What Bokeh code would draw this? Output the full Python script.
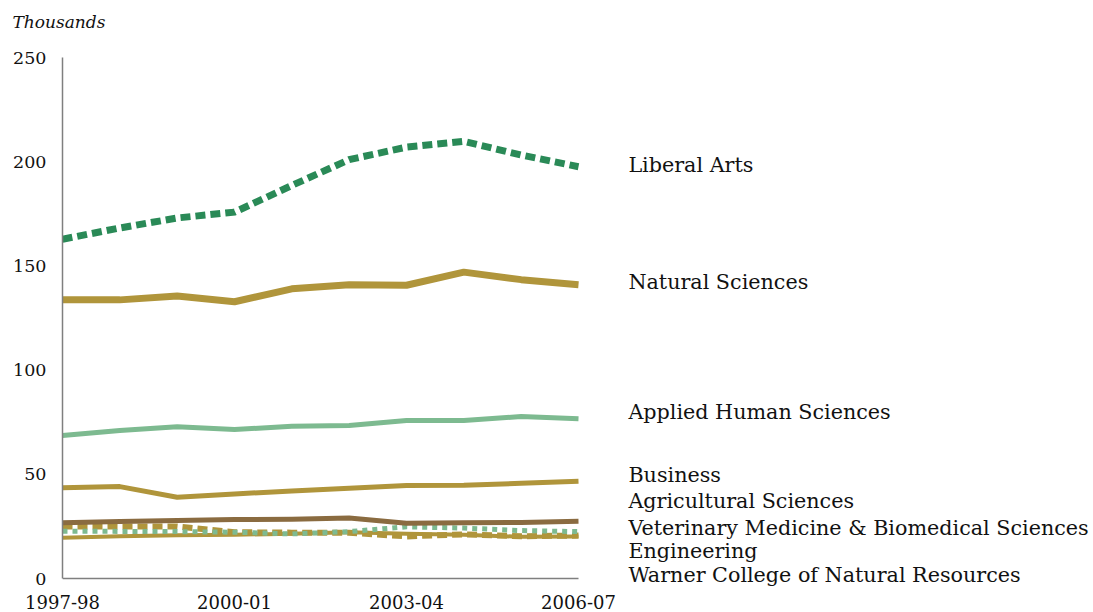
from bokeh.plotting import figure
from bokeh.models import Range1d, FixedTicker, ColumnDataSource, Title
from bokeh.core.properties import value
from bokeh.embed import file_html
from bokeh.resources import INLINE

years = ["1997-98", "1998-99", "1999-00", "2000-01", "2001-02",
         "2002-03", "2003-04", "2004-05", "2005-06", "2006-07"]
shown_ticks = ["1997-98", "2000-01", "2003-04", "2006-07"]
y_ticks = [0, 50, 100, 150, 200, 250]

liberal_arts = [162.8, 168.2, 173.0, 175.8, 188.6, 201.0, 207.0, 209.8, 203.2, 197.6]
natural_sciences = [133.8, 133.7, 135.6, 132.8, 139.0, 141.0, 140.7, 147.0, 143.4, 141.0]
applied_human = [68.6, 71.0, 72.8, 71.5, 73.0, 73.4, 75.8, 75.8, 77.7, 76.6]
business = [43.5, 44.1, 39.0, 40.6, 42.0, 43.3, 44.6, 44.8, 45.7, 46.7]
agricultural = [26.8, 27.3, 27.8, 28.3, 28.4, 29.0, 26.5, 26.7, 26.9, 27.5]
vet_med = [22.7, 22.6, 22.5, 22.2, 21.4, 22.5, 24.8, 24.2, 23.0, 22.5]
engineering = [25.0, 25.0, 25.0, 22.2, 22.0, 22.0, 20.2, 21.2, 20.3, 20.6]
warner = [19.5, 20.3, 20.8, 21.0, 21.5, 22.2, 21.5, 21.0, 20.0, 20.2]

series_names = ["Liberal Arts", "Natural Sciences", "Applied Human Sciences", "Business",
                "Agricultural Sciences", "Veterinary Medicine & Biomedical Sciences",
                "Engineering", "Warner College of Natural Resources"]
series_values = [liberal_arts, natural_sciences, applied_human, business,
                 agricultural, vet_med, engineering, warner]

# ---- styling / layout (not data) ----
DG = "#2a8a57"
LG = "#7dba90"
GOLD = "#b0953b"
BROWN = "#8a6b40"
styles = [
    dict(color=DG, width=7, dash="10 5"),
    dict(color=GOLD, width=7, dash="solid"),
    dict(color=LG, width=5, dash="solid"),
    dict(color=GOLD, width=5, dash="solid"),
    dict(color=BROWN, width=5, dash="solid"),
    dict(color=LG, width=5, dash="5 5"),
    dict(color=GOLD, width=6, dash="10 5"),
    dict(color=GOLD, width=4, dash="solid"),
]
label_pos_y = [198.2, 142.5, 79.7, 49.9, 37.4, 24.0, 13.4, 1.6]
label_pos_x = 9.87

FONT = "DejaVu Serif"
W, H = 1090, 611
LEFT, TOP, BOTTOM = 62, 40, 25
AXIS_TOP_PX = 57          # pixel row of the 250 level
AXIS_ZERO_PX = 578        # pixel row of the 0 baseline
PX_PER_X = 516 / 9.0
PX_PER_Y = (AXIS_ZERO_PX - AXIS_TOP_PX) / 250.0
frame_w = W - LEFT - 2
y_end = 250 + (AXIS_TOP_PX - TOP) / PX_PER_Y
y_start = 0 - ((H - BOTTOM) - AXIS_ZERO_PX) / PX_PER_Y
x_end = frame_w / PX_PER_X

xs = list(range(len(years)))

p = figure(width=W, height=H, output_backend="svg", toolbar_location=None,
           x_range=Range1d(0, x_end), y_range=Range1d(y_start, y_end),
           min_border_left=LEFT, min_border_right=2, min_border_top=TOP,
           min_border_bottom=BOTTOM)
p.outline_line_color = None
p.grid.visible = False
p.background_fill_color = "white"

for i in [7, 6, 5, 4, 3, 2, 1, 0]:
    st = styles[i]
    src = ColumnDataSource(dict(x=xs, y=series_values[i]))
    p.line("x", "y", source=src, line_color=st["color"], line_width=st["width"],
           line_dash=st["dash"], line_join="round" if st["dash"] == "solid" else "miter")

# x axis baseline at value 0 spanning the category extent
p.segment(x0=[xs[0]], y0=[y_ticks[0]], x1=[xs[-1]], y1=[y_ticks[0]],
          line_color="#7f7f7f", line_width=1.5)

lab = ColumnDataSource(dict(x=[label_pos_x] * len(series_names), y=label_pos_y,
                            t=series_names))
p.text("x", "y", text="t", source=lab, text_font=value(FONT),
       text_font_size="20.7px", text_baseline="middle", text_align="left",
       text_color="#111111")

p.xaxis.ticker = FixedTicker(ticks=[years.index(t) for t in shown_ticks])
p.xaxis.major_label_overrides = {years.index(t): t for t in shown_ticks}
p.xaxis.axis_line_color = None
p.yaxis.ticker = FixedTicker(ticks=y_ticks)
p.yaxis.bounds = (0, 250)
p.yaxis.axis_line_color = "#7f7f7f"
p.yaxis.axis_line_width = 1.5
for ax in (p.xaxis[0], p.yaxis[0]):
    ax.major_tick_line_color = None
    ax.minor_tick_line_color = None
    ax.major_label_text_font = FONT
    ax.major_label_text_color = "#111111"
p.xaxis.major_label_text_font_size = "18px"
p.yaxis.major_label_text_font_size = "17.5px"
p.xaxis.major_label_standoff = 2
p.yaxis.major_label_standoff = 10

p.add_layout(Title(text="Thousands", text_font=FONT, text_font_style="italic",
                   text_font_size="17px", align="left", offset=-50, standoff=17,
                   text_color="#111111"), "above")

open("out.html", "w").write(file_html(p, INLINE))
